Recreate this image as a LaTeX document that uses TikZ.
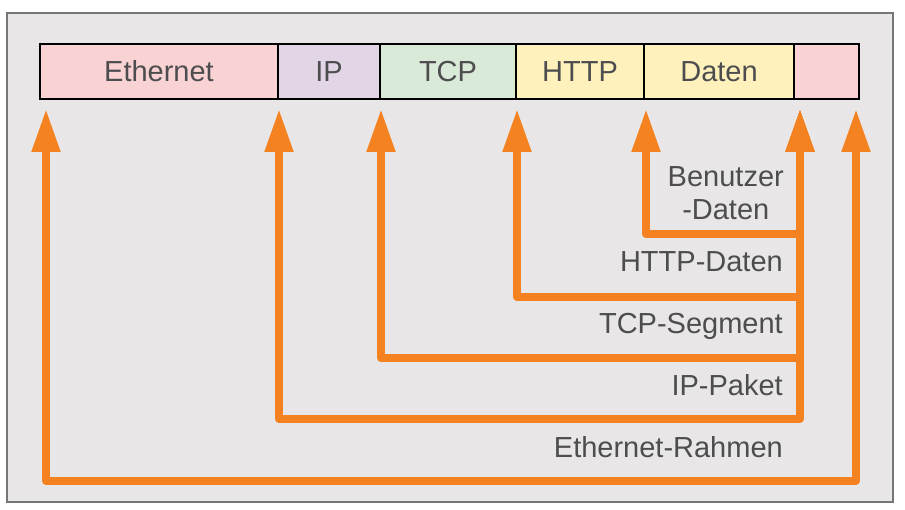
\documentclass[tikz,border=0pt]{standalone}
\usepackage{fontspec}
\setmainfont{Liberation Sans}
\usetikzlibrary{arrows.meta,chains,positioning}

\definecolor{framefill}{HTML}{E8E6E7}
\definecolor{framedraw}{HTML}{767676}
\definecolor{textgray}{HTML}{4D4D4F}
\definecolor{linkorange}{HTML}{F58220}
\definecolor{ethpink}{HTML}{F9D2D4}
\definecolor{iplilac}{HTML}{E2D5E6}
\definecolor{tcpgreen}{HTML}{DAEAD9}
\definecolor{appyellow}{HTML}{FEF1BB}

\begin{document}
\begin{tikzpicture}[
  x=1pt, y=-1pt,
  start chain=going right,
  node distance=0pt,
  field/.style={draw,on chain,line width=2.5pt,minimum height=55pt,inner sep=0pt,outer sep=0pt,
    font=\fontsize{29}{33}\selectfont,text=textgray},
  layer/.style={inner sep=0pt,font=\fontsize{29}{33}\selectfont,text=textgray},
  link/.style={draw=linkorange,line width=8pt,line join=round,
    {Triangle[width=27pt,length=43pt]}-{Triangle[width=27pt,length=43pt]}}]

  \fill[white] (0,0) rectangle (905,510);
  \useasboundingbox (0,0) rectangle (905,510);
  \draw[fill=framefill,draw=framedraw,line width=2.5pt] (7,13) rectangle (893,502);

  % frame fields
  \node(eth) [field,fill=ethpink,minimum width=238pt,anchor=west] at (40,71.5) {Ethernet};
  \node(ip)  [field,fill=iplilac,minimum width=102pt]  {IP};
  \node(tcp) [field,fill=tcpgreen,minimum width=136pt] {TCP};
  \node(http)[field,fill=appyellow,minimum width=128pt]{HTTP};
  \node(data)[field,fill=appyellow,minimum width=150pt]{Daten};
  \node(trl) [field,fill=ethpink,minimum width=65pt]   {};

  % scopes of each layer
  \draw[link] ([xshift=2pt,yshift=-10pt]data.south west) -- ++(0,125) -| ([xshift=6pt,yshift=-10pt]trl.south west);
  \draw[link] ([xshift=1pt,yshift=-10pt]http.south west) -- ++(0,188) -| ([xshift=6pt,yshift=-10pt]trl.south west);
  \draw[link] ([xshift=1pt,yshift=-10pt]tcp.south west)  -- ++(0,249) -| ([xshift=6pt,yshift=-10pt]trl.south west);
  \draw[link] ([xshift=1pt,yshift=-10pt]ip.south west)   -- ++(0,310) -| ([xshift=6pt,yshift=-10pt]trl.south west);
  \draw[link] ([xshift=6pt,yshift=-10pt]eth.south west)  -- ++(0,372) -| ([xshift=-3pt,yshift=-10pt]trl.south east);

  \node(user)[layer,align=center,anchor=east] at (784,193.5) {Benutzer\\-Daten};
  \node(httpdata)[layer,anchor=base east] at (783,272) {HTTP-Daten};
  \node(segment) [layer,anchor=base east] at (783,334) {TCP-Segment};
  \node(packet)  [layer,anchor=base east] at (783,396) {IP-Paket};
  \node(frame)   [layer,anchor=base east] at (783,457) {Ethernet-Rahmen};

\end{tikzpicture}
\end{document}
